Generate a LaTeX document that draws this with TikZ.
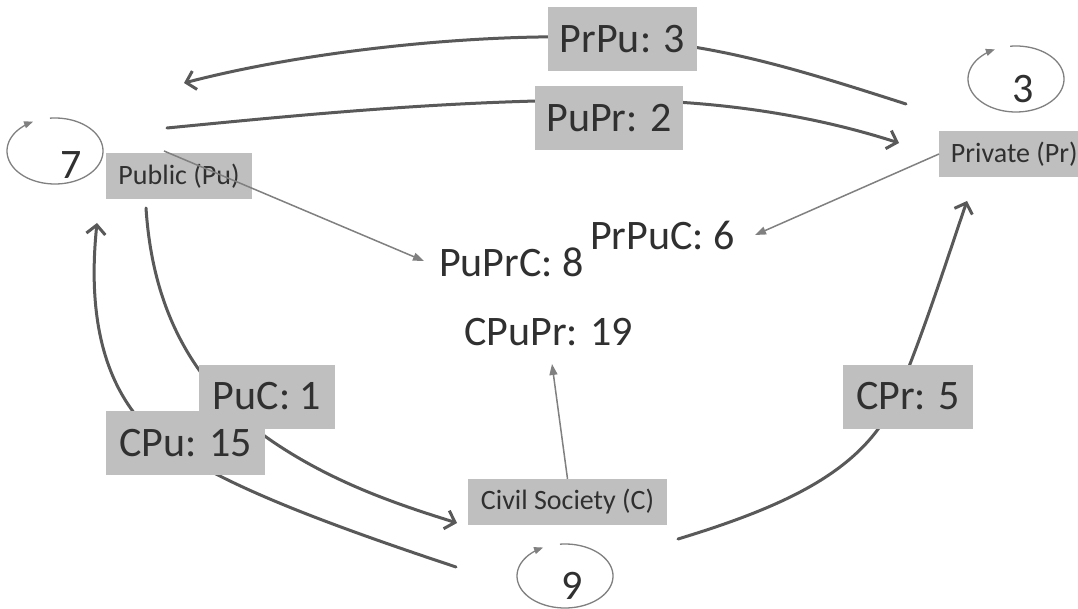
\documentclass[tikz,border=0pt]{standalone}
\usepackage{fontspec}
\setmainfont{Carlito}
\usetikzlibrary{arrows.meta}
\definecolor{boxgray}{HTML}{BFBFBF}
\definecolor{txtgray}{HTML}{303030}
\definecolor{linedark}{HTML}{595959}
\definecolor{linethin}{HTML}{808080}
\pgfdeclarelayer{bg}
\pgfsetlayers{bg,main}
\tikzset{
  lbl/.style={fill=boxgray, text=txtgray, font=\fontsize{42}{50}\selectfont, inner sep=0pt, minimum height=64pt},
  entity/.style={fill=boxgray, text=txtgray, font=\fontsize{28}{34}\selectfont, inner sep=0pt, minimum height=46pt},
  val/.style={text=txtgray, font=\fontsize{42}{50}\selectfont, inner sep=0pt},
  flow/.style={draw=linedark, line width=3pt, line cap=round, line join=round, -{Straight Barb[length=9pt,width=19pt,line width=3pt]}},
  infl/.style={draw=linethin, line width=1.5pt, -{Triangle[length=11pt,width=8pt]}},
  selfloop/.style={draw=linethin, line width=1.3pt, -{Triangle[length=9pt,width=7pt]}}
}
\begin{document}
\begin{tikzpicture}[x=1pt,y=-1pt]
\useasboundingbox (0,0) rectangle (1078,609);
% entity boxes
\node[entity, minimum width=146pt] (pu) at (179,176.5) {Public (Pu)};
\node[entity, anchor=west, minimum width=150pt] (pr) at (939,154) {Private (Pr)};
\node[entity, minimum width=199pt] (cs) at (567.5,502) {Civil Society (C)};
% flow labels
\node[lbl, minimum width=149pt] (prpu) at (622.5,39) {PrPu: 3};
\node[lbl, minimum width=148pt] (pupr) at (609,118) {PuPr: 2};
\node[lbl, minimum width=136pt] (puc) at (267,396.5) {PuC: 1};
\node[lbl, minimum width=159pt] (cpu) at (185.5,443) {CPu: 15};
\node[lbl, minimum width=130pt] (cpr) at (908,396.5) {CPr: 5};
% middle values
\node[val, anchor=base west] (puprc) at (439,277) {PuPrC: 8};
\node[val, anchor=base west] (prpuc) at (590,250) {PrPuC: 6};
\node[val, anchor=base west] (cpupr) at (464,345) {CPuPr: 19};
% self loop values
\node[val] (l7) at (71,165) {7};
\node[val] (l3) at (1023,89) {3};
\node[val] (l9) at (572,586) {9};
% connector end points
\coordinate (prpuS) at (906,104);
\coordinate (prpuE) at (184,83);
\coordinate (puprS) at (167,128);
\coordinate (puprE) at (899,143);
\coordinate (pucS) at (146,208);
\coordinate (pucE) at (457,523);
\coordinate (cpuS) at (456,567);
\coordinate (cpuE) at (97,223);
\coordinate (cprS) at (678,539);
\coordinate (cprE) at (967,201);
\coordinate (puInfl) at (164,151);
\coordinate (puprcT) at (424,261);
\coordinate (prpucT) at (755,235);
\coordinate (cpuprT) at (552,364);
\begin{pgfonlayer}{bg}
\fill[white] (0,0) rectangle (1078,609);
\draw[flow] (prpuS) .. controls (800,70) and (720,45) .. (prpu.center) .. controls (520,31) and (330,45) .. (prpuE);
\draw[flow] (puprS) .. controls (300,115) and (450,100) .. (609,100) .. controls (720,100) and (815,116) .. (puprE);
\draw[flow] (pucS) .. controls (152,300) and (185,370) .. (250,425) .. controls (320,480) and (400,505) .. (pucE);
\draw[flow] (cpuS) .. controls (330,525) and (220,485) .. (160,440) .. controls (100,390) and (88,310) .. (cpuE);
\draw[flow] (cprS) .. controls (790,505) and (860,470) .. (893,405) .. controls (920,345) and (950,250) .. (cprE);
\end{pgfonlayer}
% influence arrows
\draw[infl] (puInfl) -- (puprcT);
\draw[infl] (pr.west) -- (prpucT);
\draw[infl] (cs.north) -- (cpuprT);
% self loops
\draw[selfloop] plot[domain=0:1, samples=90, smooth] ({55+48*cos(96-339*\x)}, {151-33*sin(96-339*\x)});
\draw[selfloop] plot[domain=0:1, samples=90, smooth] ({1016+48*cos(97-341*\x)}, {79-33*sin(97-341*\x)});
\draw[selfloop] plot[domain=0:1, samples=90, smooth] ({565+48*cos(96-339*\x)}, {576-32*sin(96-339*\x)});
\end{tikzpicture}
\end{document}
